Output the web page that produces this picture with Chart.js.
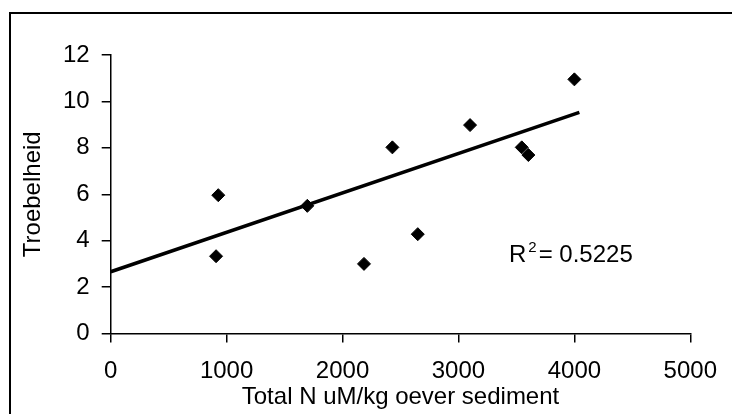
<!DOCTYPE html>
<html>
<head>
<meta charset="utf-8">
<script src="https://cdn.jsdelivr.net/npm/chart.js@4.4.1/dist/chart.umd.min.js"></script>
<style>
    body { margin: 0; overflow: hidden; background: #fff; }
    #frame { position: absolute; left: 9px; top: 12px; width: 800px; height: 500px; border: 2px solid #000; }
    #wrap { position: absolute; left: 0; top: 0; width: 732px; height: 414px; }
</style>
</head>
<body>
<div id="frame"></div>
<div id="wrap"><canvas id="myChart"></canvas></div>
<script>
// values
const nValues = [928, 909, 1696, 2185, 2430, 2649, 3100, 3546, 3603, 4000];
const troebelheid = [5.96, 3.33, 5.5, 3.0, 8.02, 4.28, 8.98, 8.02, 7.69, 10.95];

// trendline end points as drawn
const trendX = [0, 4043];
const trendY = [2.66, 9.53];

const xTicks = [0, 1000, 2000, 3000, 4000, 5000];
const yTicks = [0, 2, 4, 6, 8, 10, 12];
const r2Label = "0.5225";

const fontName = "'Liberation Sans', Arial, sans-serif";

var points = nValues.map((x, i) => ({ x: x, y: troebelheid[i] }));
var trend = trendX.map((x, i) => ({ x: x, y: trendY[i] }));

// R² label drawn on the canvas
const r2Plugin = {
    id: "r2",
    afterDraw(chart) {
        const ctx = chart.ctx;
        ctx.save();
        ctx.fillStyle = "#000";
        ctx.textBaseline = "alphabetic";
        let x = 509;
        const y = 262;
        ctx.font = "24px " + fontName;
        ctx.fillText("R", x, y);
        x += ctx.measureText("R").width + 2;
        ctx.font = "15px " + fontName;
        ctx.fillText("2", x, y - 10);
        x += ctx.measureText("2").width + 2;
        ctx.font = "24px " + fontName;
        ctx.fillText("= " + r2Label, x, y);
        ctx.restore();
    }
};

new Chart("myChart", {
    type: "scatter",
    data: {
        datasets: [
            {
                data: points,
                backgroundColor: "#000",
                borderColor: "#000",
                borderWidth: 1,
                pointStyle: "rectRot",
                pointRadius: 6.5,
                order: 1
            },
            {
                type: "line",
                data: trend,
                borderColor: "#000",
                borderWidth: 3.5,
                pointRadius: 0,
                fill: false,
                order: 2
            }
        ]
    },
    options: {
        responsive: true,
        maintainAspectRatio: false,
        animation: false,
        events: [],
        layout: { padding: { left: 0, top: 55, right: 41.7, bottom: 0 } },
        plugins: {
            legend: { display: false },
            tooltip: { enabled: false }
        },
        scales: {
            x: {
                type: "linear",
                min: 0,
                max: 5000,
                afterBuildTicks: (scale) => { scale.ticks = xTicks.map(v => ({ value: v })); },
                afterFit: (scale) => { scale.height = 80.5; },
                border: { color: "#000", width: 1.5 },
                grid: { drawOnChartArea: false, color: "#000", lineWidth: 1.5, tickLength: 9 },
                ticks: {
                    color: "#000",
                    padding: 14,
                    font: { family: fontName, size: 24 },
                    callback: (value) => String(value)
                },
                title: {
                    display: true,
                    text: "Total N uM/kg oever sediment",
                    color: "#000",
                    padding: { top: 0, bottom: 2 },
                    font: { family: fontName, size: 24 }
                }
            },
            y: {
                type: "linear",
                min: 0,
                max: 12,
                afterBuildTicks: (scale) => { scale.ticks = yTicks.map(v => ({ value: v })); },
                afterFit: (scale) => { scale.width = 110.7; },
                border: { color: "#000", width: 1.5 },
                grid: { drawOnChartArea: false, color: "#000", lineWidth: 1.5, tickLength: 9 },
                ticks: {
                    color: "#000",
                    padding: 12,
                    font: { family: fontName, size: 24 },
                    callback: (value) => String(value)
                },
                title: {
                    display: true,
                    text: "Troebelheid",
                    color: "#000",
                    padding: { top: 19, bottom: 0 },
                    font: { family: fontName, size: 24 }
                }
            }
        }
    },
    plugins: [r2Plugin]
});
</script>
</body>
</html>
